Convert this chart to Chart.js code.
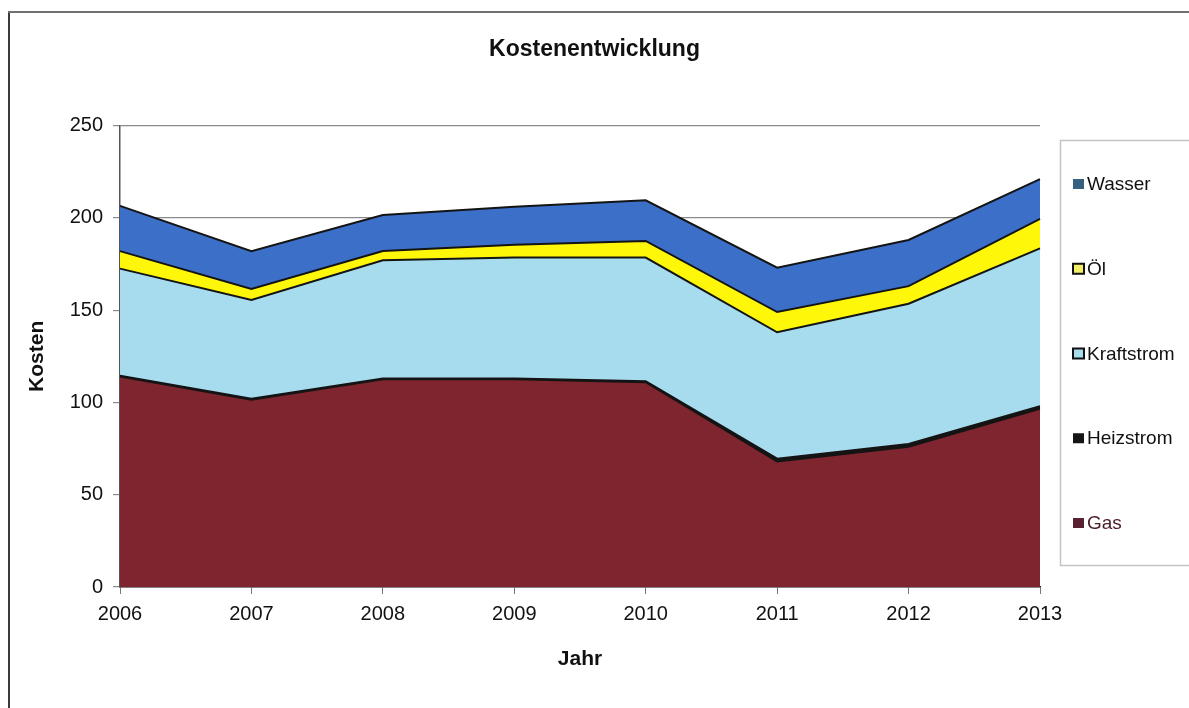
<!DOCTYPE html>
<html>
<head>
<meta charset="utf-8">
<script src="https://cdn.jsdelivr.net/npm/chart.js@4/dist/chart.umd.min.js"></script>
<style>
html,body{margin:0;padding:0;background:#fff;}
#wrap{position:relative;width:1189px;height:708px;overflow:hidden;background:#fff;}
#c{position:absolute;left:0;top:0;}
.bl{position:absolute;left:8px;top:11px;width:2px;height:697px;background:#3a3a3a;}
.bt{position:absolute;left:8px;top:11px;width:1181px;height:2px;background:#707070;}
</style>
</head>
<body>
<div id="wrap">
  <canvas id="c" width="1189" height="708"></canvas>
  <div class="bl"></div><div class="bt"></div>
</div>
<script>
// ---- data ----
const years = ['2006','2007','2008','2009','2010','2011','2012','2013'];
const gas        = [114, 101.5, 112.5, 112.5, 111, 68, 76, 96.5];
const heizstrom  = [0.5, 0.5, 0.5, 0.5, 0.5, 1.5, 1.5, 1.5];
const kraftstrom = [58, 53.5, 64, 65.5, 67, 68.5, 76, 85.5];
const oel        = [9.5, 6, 5, 7, 9, 11, 9.5, 16];
const wasser     = [24.5, 20.5, 19.5, 20.5, 22, 24, 25, 21.5];
const seriesNames = ['Gas','Heizstrom','Kraftstrom','Öl','Wasser'];
const yTicks = [0, 50, 100, 150, 200, 250];
const chartTitle = 'Kostenentwicklung';
const xTitle = 'Jahr';
const yTitle = 'Kosten';

// ---- styles ----
const FONT = "'Liberation Sans', Arial, sans-serif";
const fills = ['#7e2530', '#151515', '#a7dcee', '#fff70a', '#3c70c8'];
const legendFill = ['#5a2130', '#151515', '#a7dcee', '#f2ee66', '#37607f'];
const legendStroke = [null, null, '#111', '#111', null];
const legendText = ['#4a1c28', '#111', '#111', '#111', '#111'];

const seriesData = [gas, heizstrom, kraftstrom, oel, wasser];
const datasets = seriesNames.map((name, i) => ({
  label: name,
  data: seriesData[i],
  backgroundColor: fills[i],
  borderColor: '#141414',
  borderWidth: 2,
  fill: i === 0 ? 'origin' : '-1',
  pointRadius: 0,
  tension: 0
}));

const boxLegend = {
  id: 'boxLegend',
  afterDraw(chart) {
    const ctx = chart.ctx;
    ctx.save();
    ctx.strokeStyle = '#c4c4c4';
    ctx.lineWidth = 1.5;
    ctx.strokeRect(1060.5, 140.5, 150, 425);
    ctx.font = '19px ' + FONT;
    ctx.textBaseline = 'middle';
    ctx.textAlign = 'left';
    const n = chart.data.datasets.length;
    for (let k = 0; k < n; k++) {
      const i = n - 1 - k;
      const y = 184 + k * 84.75;
      ctx.fillStyle = legendFill[i];
      ctx.fillRect(1073, y - 5, 11, 10);
      if (legendStroke[i]) {
        ctx.strokeStyle = legendStroke[i];
        ctx.lineWidth = 2;
        ctx.strokeRect(1073, y - 5, 11, 10);
      }
      ctx.fillStyle = legendText[i];
      ctx.fillText(chart.data.datasets[i].label, 1087, y + 1);
    }
    ctx.restore();
  }
};

new Chart(document.getElementById('c'), {
  type: 'line',
  data: { labels: years, datasets },
  plugins: [boxLegend],
  options: {
    responsive: false,
    animation: false,
    devicePixelRatio: 1,
    layout: { padding: 0 },
    plugins: {
      legend: { display: false },
      tooltip: { enabled: false },
      title: {
        display: true, text: chartTitle, color: '#111',
        font: { family: FONT, size: 23, weight: 'bold' },
        padding: { top: 36, bottom: 62 }
      }
    },
    scales: {
      x: {
        type: 'category',
        offset: false,
        grid: { display: true, drawOnChartArea: false, drawTicks: true, tickLength: 7, color: '#777' },
        border: { display: true, color: '#222', width: 1.5 },
        ticks: { color: '#111', font: { family: FONT, size: 20 }, padding: 8, maxRotation: 0, autoSkip: false },
        title: { display: true, text: xTitle, color: '#111', font: { family: FONT, size: 21, weight: 'bold' }, padding: { top: 10, bottom: 36 } },
        afterFit(s) { s.height = 121; }
      },
      y: {
        stacked: true,
        min: 0, max: 250,
        afterBuildTicks(s) { s.ticks = yTicks.map(v => ({ value: v })); },
        ticks: { color: '#111', font: { family: FONT, size: 20 }, padding: 10 },
        grid: { color: '#8a8a8a', lineWidth: 1.2, tickLength: 7 },
        border: { display: true, color: '#555', width: 1.5 },
        title: { display: true, text: yTitle, color: '#111', font: { family: FONT, size: 21, weight: 'bold' }, padding: { top: 25, bottom: 0 } },
        afterFit(s) { s.width = 120; }
      },
      yLegendSpace: {
        type: 'linear',
        position: 'right',
        display: true,
        min: 0, max: 250,
        ticks: { display: false },
        grid: { display: false, drawTicks: false },
        border: { display: false },
        afterFit(s) { s.width = 149; }
      }
    }
  }
});
</script>
</body>
</html>
